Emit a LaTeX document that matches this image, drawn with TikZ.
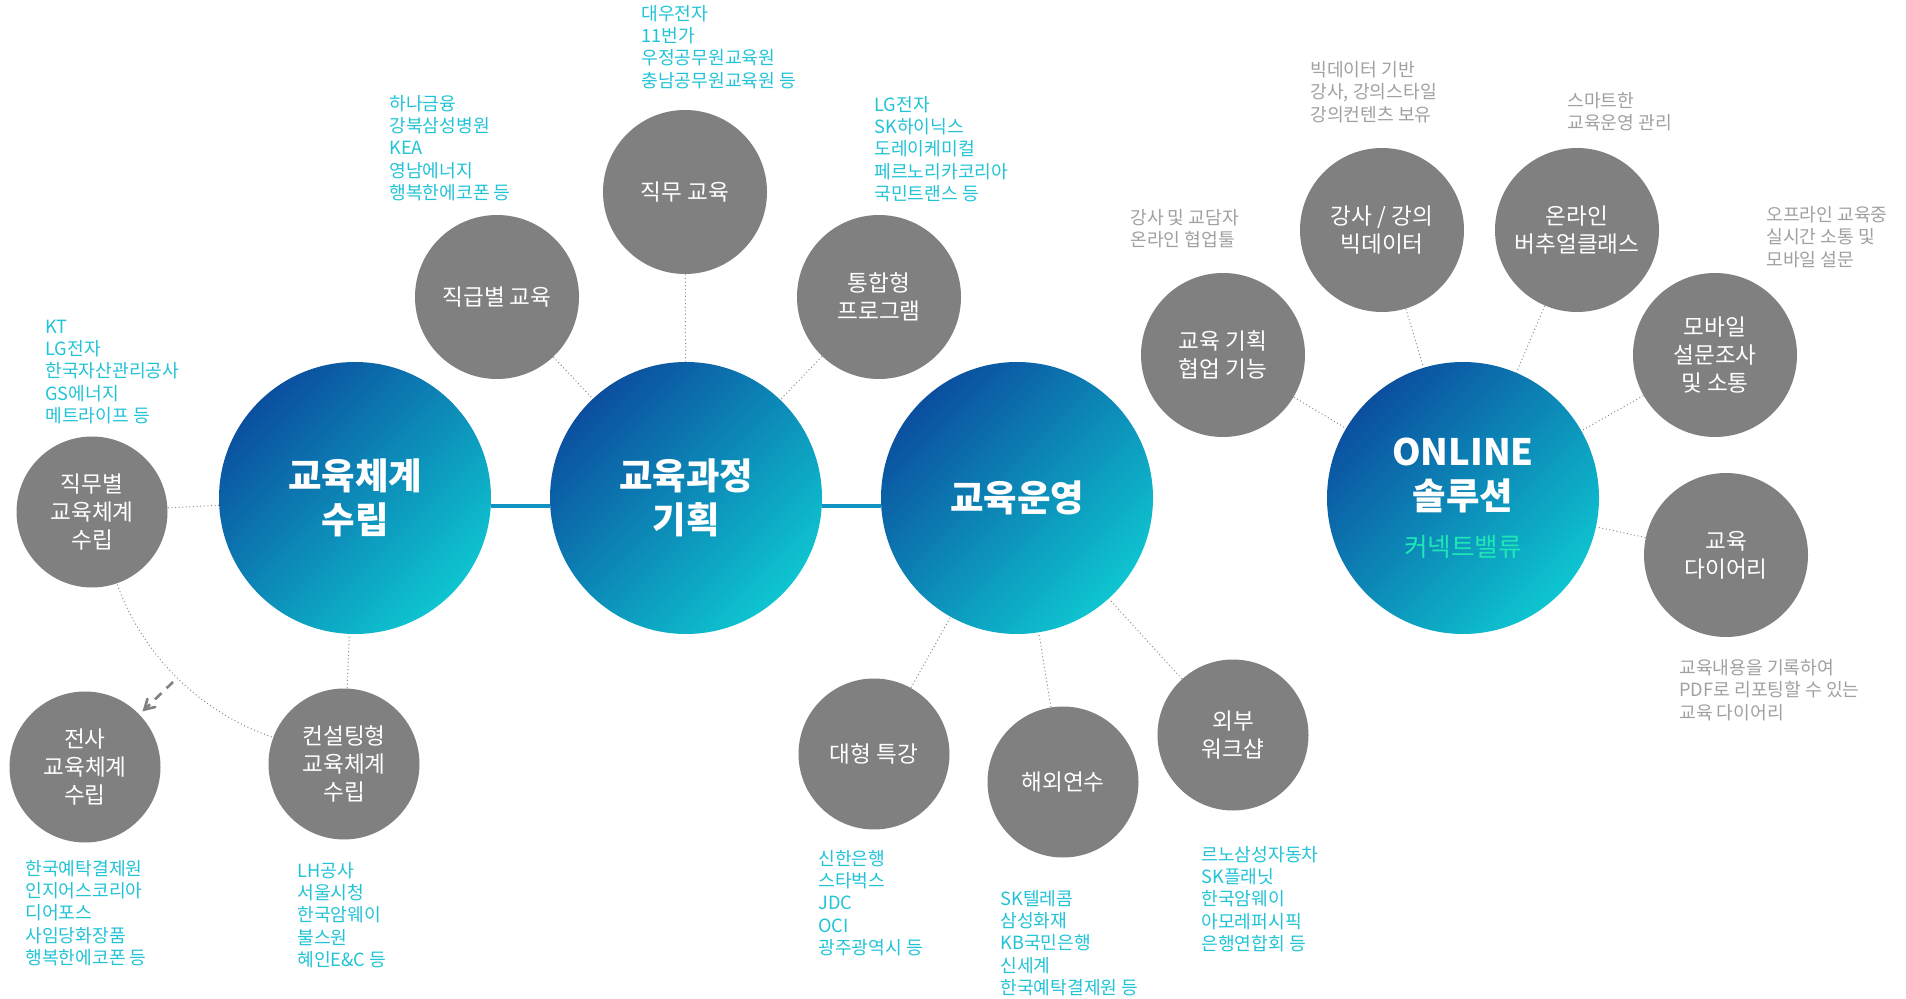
\documentclass[tikz,border=0pt]{standalone}
\usepackage{fontspec}
\setmainfont{Noto Sans CJK KR}
\usetikzlibrary{shapes,arrows}

\definecolor{circgray}{HTML}{808080}
\definecolor{listcyan}{HTML}{22C3D7}
\definecolor{descgray}{HTML}{A0A0A0}
\definecolor{bluedark}{HTML}{0B4F9F}
\definecolor{bluelight}{HTML}{0EC5D0}
\definecolor{linkblue}{HTML}{1193C2}
\definecolor{valuegreen}{HTML}{1EE6B4}
\definecolor{dotgray}{HTML}{8C8C8C}

\tikzset{
	maincirc/.style={circle, minimum size=136pt, inner sep=0pt, top color=bluedark, bottom color=bluelight, shading angle=45, text=white, align=center, font=\fontsize{18.2}{22.3}\selectfont\bfseries},
	gcircS/.style={circle, fill=circgray, minimum size=75.5pt, inner sep=0pt, text=white, align=center, font=\fontsize{11.3}{14}\selectfont},
	gcircL/.style={gcircS, minimum size=82pt},
	clist/.style={anchor=west, inner sep=0pt, align=left, text=listcyan, font=\fontsize{9.1}{11.1}\selectfont},
	glist/.style={clist, text=descgray},
	dotline/.style={dotgray, line width=0.5pt, dash pattern=on 0.5pt off 1.3pt},
	mainlink/.style={linkblue, line width=2pt},
	dasharrow/.style={->, circgray, line width=1.3pt, dash pattern=on 4.5pt off 3.5pt, shorten >=2pt}
}

\begin{document}
\begin{tikzpicture}[x=0.5pt, y=-0.5pt, >=angle 60]

\useasboundingbox (0,0) rectangle (1906,999);

				% main circles
				\node [maincirc] (edusys) at (355,498) {교육체계\\수립};
				\node [maincirc] (plan) at (686,498) {교육과정\\기획};
				\node [maincirc] (oper) at (1017,498) {교육운영};
				\node [maincirc] (online) at (1463,498) {ONLINE\\솔루션\\[1pt]{\fontsize{12.8}{14}\selectfont\mdseries\color{valuegreen}커넥트밸류}};
				\draw [mainlink] ([yshift=-4pt]edusys.east) -- ([yshift=-4pt]plan.west);
				\draw [mainlink] ([yshift=-4pt]plan.east) -- ([yshift=-4pt]oper.west);

				% left group
				\node [gcircS] (jikmubyul) at (92,512) {직무별\\교육체계\\수립};
				\node [gcircS] (jeonsa) at (85,767) {전사\\교육체계\\수립};
				\node [gcircS] (consult) at (344,764) {컨설팅형\\교육체계\\수립};
				\draw [dotline] (jikmubyul) -- (edusys);
				\draw [dotline] (consult) -- (edusys);
				\draw [dotline] (edusys) ++(200:126.5pt) arc [start angle=200, end angle=251, radius=126.5pt];
				\coordinate (arrstart) at (173,682);
				\draw [dasharrow] (arrstart) -- (jeonsa);

				% planning group
				\node [gcircL] (jikgeup) at (497,297) {직급별 교육};
				\node [gcircL] (jikmu) at (685,192) {직무 교육};
				\node [gcircL] (tonghap) at (879,297) {통합형\\프로그램};
				\draw [dotline] (jikgeup) -- (plan);
				\draw [dotline] (jikmu) -- (plan);
				\draw [dotline] (tonghap) -- (plan);

				% operation group
				\node [gcircS] (daehyung) at (874,754) {대형 특강};
				\node [gcircS] (haeoe) at (1063,782) {해외연수};
				\node [gcircS] (oebu) at (1233,735) {외부\\워크샵};
				\draw [dotline] (daehyung) -- (oper);
				\draw [dotline] (haeoe) -- (oper);
				\draw [dotline] (oebu) -- (oper);

				% online group
				\node [gcircL] (hyeobeop) at (1223,355) {교육 기획\\협업 기능};
				\node [gcircL] (bigdata) at (1382,230) {강사 / 강의\\빅데이터};
				\node [gcircL] (virtual) at (1577,230) {온라인\\버추얼클래스};
				\node [gcircL] (mobile) at (1715,355) {모바일\\설문조사\\및 소통};
				\node [gcircL] (diary) at (1726,555) {교육\\다이어리};
				\draw [dotline] (hyeobeop) -- (online);
				\draw [dotline] (bigdata) -- (online);
				\draw [dotline] (virtual) -- (online);
				\draw [dotline] (mobile) -- (online);
				\draw [dotline] (diary) -- (online);

				% client lists
				\node [clist] (ktlist) at (45,372) {KT\\LG전자\\한국자산관리공사\\GS에너지\\메트라이프 등};
				\node [clist] (jeonsalist) at (25,913) {한국예탁결제원\\인지어스코리아\\디어포스\\사임당화장품\\행복한에코폰 등};
				\node [clist] (consultlist) at (297,915) {LH공사\\서울시청\\한국암웨이\\불스원\\혜인E\&C 등};
				\node [clist] (jikgeuplist) at (389,148) {하나금융\\강북삼성병원\\KEA\\영남에너지\\행복한에코폰 등};
				\node [clist] (jikmulist) at (641,47) {대우전자\\11번가\\우정공무원교육원\\충남공무원교육원 등};
				\node [clist] (tonghaplist) at (874,149) {LG전자\\SK하이닉스\\도레이케미컬\\페르노리카코리아\\국민트랜스 등};
				\node [clist] (daehyunglist) at (818,903) {신한은행\\스타벅스\\JDC\\OCI\\광주광역시 등};
				\node [clist] (haeoelist) at (1000,943) {SK텔레콤\\삼성화재\\KB국민은행\\신세계\\한국예탁결제원 등};
				\node [clist] (oebulist) at (1201,899) {르노삼성자동차\\SK플래닛\\한국암웨이\\아모레퍼시픽\\은행연합회 등};

				% online descriptions
				\node [glist] (hyeobeopdesc) at (1130,229) {강사 및 교담자\\온라인 협업툴};
				\node [glist] (bigdatadesc) at (1310,92) {빅데이터 기반\\강사, 강의스타일\\강의컨텐츠 보유};
				\node [glist] (virtualdesc) at (1567,112) {스마트한\\교육운영 관리};
				\node [glist] (mobiledesc) at (1766,237) {오프라인 교육중\\실시간 소통 및\\모바일 설문};
				\node [glist] (diarydesc) at (1679,690) {교육내용을 기록하여\\PDF로 리포팅할 수 있는\\교육 다이어리};

\end{tikzpicture}
\end{document}
